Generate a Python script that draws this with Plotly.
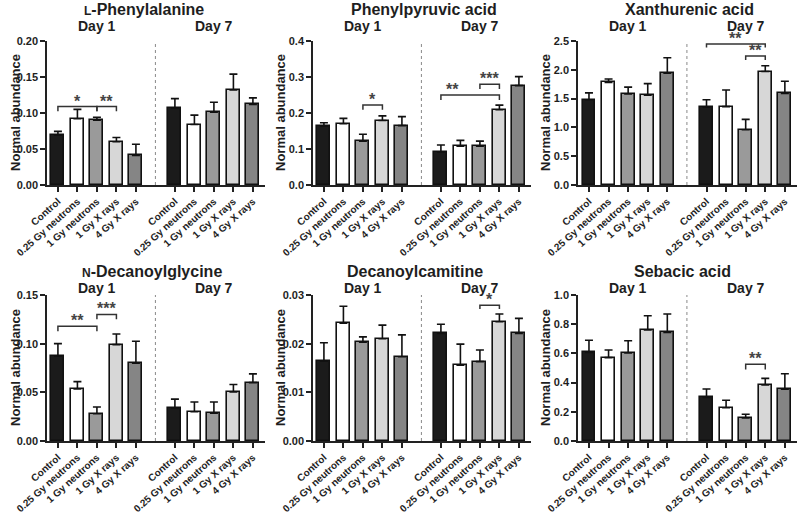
import plotly.graph_objects as go

# ---------------- data ----------------
groups = ["Control", "0.25 Gy neutrons", "1 Gy neutrons", "1 Gy X rays", "4 Gy X rays"]
days = ["Day 1", "Day 7"]
titles = [
    '<span style="font-size:12px">L</span>-Phenylalanine',
    "Phenylpyruvic acid",
    "Xanthurenic acid",
    '<span style="font-size:12px">N</span>-Decanoylglycine',
    "Decanoylcamitine",
    "Sebacic acid",
]

phe_d1 = [0.069, 0.092, 0.090, 0.060, 0.041]
phe_d1_sem = [0.0055, 0.013, 0.004, 0.006, 0.0156]
phe_d7 = [0.107, 0.084, 0.101, 0.132, 0.112]
phe_d7_sem = [0.013, 0.013, 0.014, 0.022, 0.009]

ppa_d1 = [0.163, 0.170, 0.122, 0.179, 0.165]
ppa_d1_sem = [0.010, 0.015, 0.019, 0.013, 0.025]
ppa_d7 = [0.092, 0.108, 0.108, 0.209, 0.276]
ppa_d7_sem = [0.019, 0.016, 0.014, 0.013, 0.025]

xan_d1 = [1.48, 1.78, 1.58, 1.56, 1.94]
xan_d1_sem = [0.12, 0.06, 0.12, 0.20, 0.27]
xan_d7 = [1.35, 1.36, 0.96, 1.97, 1.59]
xan_d7_sem = [0.13, 0.29, 0.18, 0.10, 0.21]

dec_d1 = [0.087, 0.0535, 0.028, 0.099, 0.080]
dec_d1_sem = [0.013, 0.0075, 0.007, 0.011, 0.0225]
dec_d7 = [0.034, 0.030, 0.0285, 0.0505, 0.060]
dec_d7_sem = [0.009, 0.010, 0.0115, 0.0075, 0.009]

car_d1 = [0.0164, 0.0242, 0.0203, 0.0210, 0.0173]
car_d1_sem = [0.0038, 0.0035, 0.0011, 0.0028, 0.0045]
car_d7 = [0.0221, 0.0156, 0.0163, 0.0245, 0.0221]
car_d7_sem = [0.0019, 0.0043, 0.0024, 0.0016, 0.0031]

seb_d1 = [0.607, 0.571, 0.603, 0.760, 0.744]
seb_d1_sem = [0.083, 0.052, 0.084, 0.098, 0.126]
seb_d7 = [0.299, 0.228, 0.158, 0.384, 0.354]
seb_d7_sem = [0.057, 0.051, 0.025, 0.045, 0.107]

y_max = [0.20, 0.4, 2.5, 0.15, 0.03, 1.0]
y_dtick = [0.05, 0.1, 0.5, 0.05, 0.01, 0.2]
y_format = [".2f", ".1f", ".1f", ".2f", ".2f", ".1f"]

# significance brackets: panel, day, from-group, to-group, bracket height, end height, label
brackets = [
    dict(panel=0, day=0, g0=0, g1=2, top=0.109, end=0.1025, label="*"),
    dict(panel=0, day=0, g0=2, g1=3, top=0.109, end=0.1025, label="**"),
    dict(panel=1, day=0, g0=2, g1=3, top=0.2225, end=0.209, label="*"),
    dict(panel=1, day=1, g0=0, g1=3, top=0.250, end=0.236, label="**", label_at=0.6),
    dict(panel=1, day=1, g0=2, g1=3, top=0.280, end=0.267, label="***"),
    dict(panel=2, day=1, g0=0, g1=3, top=2.45, end=2.385, label="**"),
    dict(panel=2, day=1, g0=2, g1=3, top=2.24, end=2.17, label="**"),
    dict(panel=3, day=0, g0=0, g1=2, top=0.118, end=0.1128, label="**"),
    dict(panel=3, day=0, g0=2, g1=3, top=0.130, end=0.125, label="***"),
    dict(panel=4, day=1, g0=2, g1=3, top=0.0279, end=0.0271, label="*"),
    dict(panel=5, day=1, g0=2, g1=3, top=0.525, end=0.49, label="**"),
]

panel_data = [
    (phe_d1, phe_d1_sem, phe_d7, phe_d7_sem),
    (ppa_d1, ppa_d1_sem, ppa_d7, ppa_d7_sem),
    (xan_d1, xan_d1_sem, xan_d7, xan_d7_sem),
    (dec_d1, dec_d1_sem, dec_d7, dec_d7_sem),
    (car_d1, car_d1_sem, car_d7, car_d7_sem),
    (seb_d1, seb_d1_sem, seb_d7, seb_d7_sem),
]

# ---------------- style / layout ----------------
W, H = 800, 513
FONT = "Liberation Sans, Arial, Helvetica, sans-serif"
INK = "#1e1e1e"
bar_colors = ["#1b1b1b", "#ffffff", "#9a9a9a", "#d7d7d7", "#858585"]

col_px = [(47, 265), (313, 531), (578, 797)]
row_px = [(41, 185), (295, 441)]
title_px_y = [9, 271]
day_px_y = [26, 288]
title_px_x = [144, 424, 689, 152, 415, 682]
ytitle_px_x = [15, 280, 545]


def pos(day, g):
    return day * (len(groups) + 1) + g


def sfx(i):
    return "" if i == 0 else str(i + 1)


fig = go.Figure()
annotations = []
shapes = []

for i, (d1, s1, d7, s7) in enumerate(panel_data):
    r, c = divmod(i, 3)
    s = sfx(i)
    xs = [pos(0, g) for g in range(len(groups))] + [pos(1, g) for g in range(len(groups))]
    ys = list(d1) + list(d7)
    errs = list(s1) + list(s7)
    fig.add_trace(go.Bar(
        x=xs, y=ys, width=0.66,
        marker=dict(color=bar_colors * 2, line=dict(color="#111111", width=1.6)),
        error_y=dict(type="data", array=errs, arrayminus=[0] * len(errs), symmetric=False,
                     color="#111111", thickness=1.6, width=4),
        xaxis=f"x{s}", yaxis=f"y{s}", showlegend=False, hoverinfo="skip",
    ))

    x0, x1 = col_px[c]
    ytop, ybot = row_px[r]
    fig.update_layout(**{
        f"xaxis{s}": dict(
            domain=[x0 / W, x1 / W], anchor=f"y{s}", range=[-0.56, 10.62],
            tickmode="array", tickvals=xs, ticktext=groups * 2, tickangle=-42,
            tickfont=dict(family=FONT, size=10, color=INK, weight="bold"),
            showline=True, linecolor="#222222", linewidth=1.5,
            ticks="outside", ticklen=5, tickwidth=1.5, tickcolor="#222222",
            showgrid=False, zeroline=False, fixedrange=True, automargin=False,
        ),
        f"yaxis{s}": dict(
            domain=[1 - ybot / H, 1 - ytop / H], anchor=f"x{s}", range=[0, y_max[i]],
            dtick=y_dtick[i], tick0=0, tickformat=y_format[i],
            tickfont=dict(family=FONT, size=11, color=INK, weight="bold"),
            showline=True, linecolor="#222222", linewidth=1.5,
            ticks="outside", ticklen=5, tickwidth=1.5, tickcolor="#222222",
            showgrid=False, zeroline=False, fixedrange=True, automargin=False,
        ),
    })

    # dotted separator between days
    shapes.append(dict(type="line", xref=f"x{s}", yref=f"y{s} domain",
                       x0=pos(1, -1), x1=pos(1, -1), y0=0, y1=1,
                       line=dict(color="#8a8a8a", width=1, dash="dot")))

    # panel title
    annotations.append(dict(text=titles[i], xref="paper", yref="paper",
                            x=title_px_x[i] / W, y=1 - title_px_y[r] / H,
                            showarrow=False, xanchor="center", yanchor="middle",
                            font=dict(family=FONT, size=16, color=INK, weight="bold")))
    # day labels
    for d, lab in enumerate(days):
        annotations.append(dict(text=lab, xref=f"x{s}", yref="paper",
                                x=pos(d, 2), y=1 - day_px_y[r] / H,
                                showarrow=False, xanchor="center", yanchor="middle",
                                font=dict(family=FONT, size=14, color=INK, weight="bold")))
    # y axis title
    annotations.append(dict(text="Normal abundance", xref="paper", yref="paper",
                            x=ytitle_px_x[c] / W, y=1 - (ytop + ybot) / 2 / H,
                            textangle=-90, showarrow=False,
                            xanchor="center", yanchor="middle",
                            font=dict(family=FONT, size=13, color=INK, weight="bold")))

# brackets
for b in brackets:
    s = sfx(b["panel"])
    xa = pos(b["day"], b["g0"])
    xb = pos(b["day"], b["g1"])
    fig.add_trace(go.Scatter(
        x=[xa, xa, xb, xb], y=[b["end"], b["top"], b["top"], b["end"]],
        mode="lines", line=dict(color="#333333", width=1.5),
        xaxis=f"x{s}", yaxis=f"y{s}", showlegend=False, hoverinfo="skip", cliponaxis=False,
    ))
    lx = pos(b["day"], b["g0"]) + b["label_at"] if "label_at" in b else (xa + xb) / 2
    annotations.append(dict(text=b["label"], xref=f"x{s}", yref=f"y{s}",
                            x=lx, y=b["top"], showarrow=False,
                            xanchor="center", yanchor="bottom", yshift=-5,
                            font=dict(family=FONT, size=16, color="#444444", weight="bold")))

fig.update_layout(
    width=W, height=H, margin=dict(l=0, r=0, t=0, b=0, autoexpand=False),
    paper_bgcolor="white", plot_bgcolor="white",
    showlegend=False, bargap=0,
    annotations=annotations, shapes=shapes,
    font=dict(family=FONT, color=INK),
)

fig.write_html(
    "out.html",
    config={"displayModeBar": False},
    post_script="document.body.style.margin='0';document.body.style.overflow='hidden';",
)
